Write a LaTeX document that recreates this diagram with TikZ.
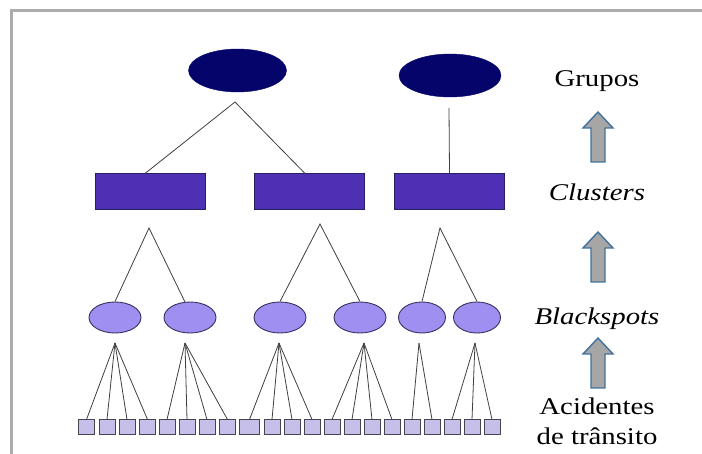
\documentclass[tikz,border=0pt]{standalone}
\usepackage{graphicx}
\usepackage{fontspec}
\setmainfont{Liberation Serif}
\usetikzlibrary{shapes.geometric}
\definecolor{navy}{HTML}{04046A}
\definecolor{clusterfill}{HTML}{4E30B5}
\definecolor{clusterdraw}{HTML}{262060}
\definecolor{bsfill}{HTML}{9F8FF0}
\definecolor{bsdraw}{HTML}{3A3060}
\definecolor{accfill}{HTML}{C5BFEA}
\definecolor{accdraw}{HTML}{45454F}
\definecolor{framegray}{HTML}{ABABAB}
\definecolor{arrowfill}{HTML}{A6A6A6}
\definecolor{arrowdraw}{HTML}{41719C}
\newcommand{\wide}[1]{\scalebox{1.2}[1]{#1}}
\begin{document}
\begin{tikzpicture}[x=1pt,y=-1pt,
  grp/.style={ellipse,fill=navy,draw=navy,inner sep=0pt,minimum width=98pt,minimum height=43pt},
  clu/.style={rectangle,fill=clusterfill,draw=clusterdraw,line width=1pt,inner sep=0pt,minimum width=110pt,minimum height=36pt},
  bsp/.style={ellipse,fill=bsfill,draw=bsdraw,line width=0.9pt,inner sep=0pt,minimum width=52pt,minimum height=31pt},
  bspn/.style={bsp,minimum width=47pt},
  acc/.style={rectangle,fill=accfill,draw=accdraw,line width=1pt,inner sep=0pt,minimum width=16pt,minimum height=15pt},
  conn/.style={draw=black!75,line width=0.8pt},
  lbl/.style={font=\fontsize{24}{30}\selectfont,anchor=base,inner sep=0pt},
  blockarrow/.style={fill=arrowfill,draw=arrowdraw,line width=1.4pt,line join=miter}
]
\useasboundingbox (0,0) rectangle (702,454);
\fill[white] (0,0) rectangle (702,454);
% frame
\draw[framegray,line width=3pt] (11.5,454) -- (11.5,10.5) -- (702,10.5);

% top groups
\node[grp] (g1) at (237.5,70.5) {};
\node[grp,minimum width=102pt] (g2) at (450,75.5) {};

% clusters
\node[clu] (c1) at (150,191.5) {};
\node[clu] (c2) at (309.5,191.5) {};
\node[clu] (c3) at (449.5,191.5) {};

% blackspots
\node[bsp] (b1) at (115,317.5) {};
\node[bsp] (b2) at (190,317.5) {};
\node[bsp] (b3) at (280,317.5) {};
\node[bsp] (b4) at (360,317.5) {};
\node[bspn] (b5) at (422,317.5) {};
\node[bspn] (b6) at (477,317.5) {};

% accidents
\foreach \i/\x in {1/86.5,2/107,3/127,4/147.5,5/167,6/187,7/207,8/227.5,10/272,11/292,12/312,13/332,14/352,15/372,16/392,17/412,18/432,19/452,20/472,21/492}{
  \node[acc] (s\i) at (\x,427.5) {};
}
\node[acc,minimum width=20pt] (s9) at (249.5,427.5) {};

% apex coordinates
\coordinate (tg1) at (235,102);
\coordinate (tg2) at (449,108);
\coordinate (tc1) at (149,228);
\coordinate (tc2) at (320,224);
\coordinate (tc3) at (440,228);
\coordinate (tb1) at (115,343);
\coordinate (tb2) at (185,343);
\coordinate (tb3) at (279,343);
\coordinate (tb4) at (364,343);
\coordinate (tb5) at (419,343);
\coordinate (tb6) at (475,343);
\coordinate (e1) at (145,173.5);
\coordinate (e2) at (305,173.5);
\coordinate (f2) at (185,302);

% connectors groups -> clusters
\draw[conn] (e1) -- (tg1) -- (e2);
\draw[conn] (tg2) -- (c3.north);
% clusters -> blackspots
\draw[conn] (b1.north) -- (tc1) -- (f2);
\draw[conn] (b3.north) -- (tc2) -- (b4.north);
\draw[conn] (b5.north) -- (tc3) -- (b6.north);
% blackspots -> accidents
\foreach \k in {1,2,3,4}{\draw[conn] (tb1) -- (s\k.north);}
\foreach \k in {5,6,7,8}{\draw[conn] (tb2) -- (s\k.north);}
\foreach \k in {9,10,11,12}{\draw[conn] (tb3) -- (s\k.north);}
\foreach \k in {13,14,15,16}{\draw[conn] (tb4) -- (s\k.north);}
\foreach \k in {17,18}{\draw[conn] (tb5) -- (s\k.north);}
\foreach \k in {19,20,21}{\draw[conn] (tb6) -- (s\k.north);}

% labels
\node[lbl] (lg) at (597,87) {\wide{Grupos}};
\node[lbl] (lc) at (597,201) {\wide{\textit{Clusters}}};
\node[lbl] (lb) at (597,325) {\wide{\textit{Blackspots}}};
\node[lbl] (la1) at (597,414) {\wide{Acidentes}};
\node[lbl] (la2) at (597,444) {\wide{de trânsito}};

% block arrows
\foreach \t in {112,232,338}{
  \draw[blockarrow] (598,\t) -- (613,\t+16) -- (605,\t+16) -- (605,\t+50) -- (591,\t+50) -- (591,\t+16) -- (583,\t+16) -- cycle;
}
\end{tikzpicture}
\end{document}
